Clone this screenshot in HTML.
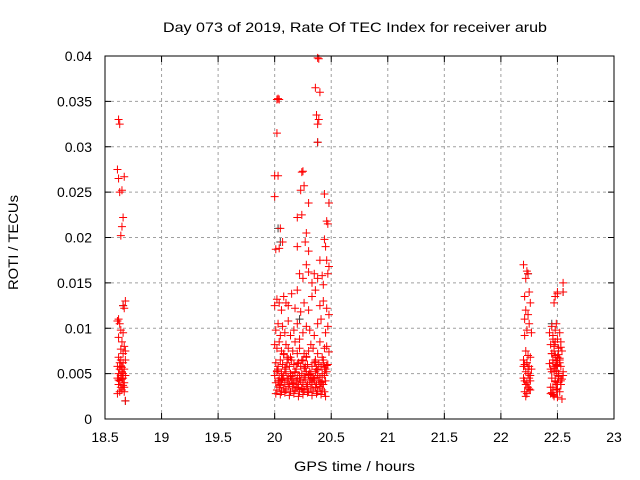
<!DOCTYPE html>
<html><head><meta charset="utf-8"><style>
html,body{margin:0;padding:0;background:#fff;}
svg{display:block;font-family:"Liberation Sans",sans-serif;}
</style></head><body>
<svg id="chart" width="640" height="480" xmlns="http://www.w3.org/2000/svg">
<rect width="640" height="480" fill="#fff"/>
<text x="163" y="32" font-size="14" textLength="384" lengthAdjust="spacingAndGlyphs">Day 073 of 2019, Rate Of TEC Index for receiver arub</text>
<text x="294" y="471" font-size="14" textLength="121" lengthAdjust="spacingAndGlyphs">GPS time / hours</text>
<text transform="translate(18,290) rotate(-90)" font-size="14" textLength="95" lengthAdjust="spacingAndGlyphs">ROTI / TECUs</text>
<g id="grid"></g>
<g id="ticks"></g>
<g id="points"></g>
<rect x="105" y="56" width="509" height="363" fill="none" stroke="#000" stroke-width="1"/>
</svg>
<script>
const xTicks=[18.5,19,19.5,20,20.5,21,21.5,22,22.5,23];
const xTickLabels=["18.5","19","19.5","20","20.5","21","21.5","22","22.5","23"];
const yTicks=[0,0.005,0.01,0.015,0.02,0.025,0.03,0.035,0.04];
const yTickLabels=["0","0.005","0.01","0.015","0.02","0.025","0.03","0.035","0.04"];
const ptX=[
18.62,18.63,18.61,18.62,18.67,18.63,18.65,18.66,18.65,18.64,18.66,18.68,18.67,18.62,18.63,18.61,18.64,18.66,18.62,18.65,18.67,18.64,18.66,18.68,18.62,18.64,18.66,18.68,18.61,18.63,18.65,18.67,18.62,18.64,18.66,18.68,18.61,18.63,18.65,18.67,18.62,18.64,18.66,18.63,18.65,18.61,18.67,18.68,18.66,18.64,18.63,18.65,18.62,18.67,
20.02,20.03,20.04,20.38,20.39,20.37,20.39,20.38,20.40,20.36,20.38,20.02,20.0,20.03,20.25,20.24,20.23,20.26,20.44,20.48,20.30,20.46,20.47,20.2,20.24,20.0,20.01,20.04,20.05,20.07,20.2,20.28,20.27,20.3,20.44,20.45,20.4,20.46,20.48,20.47,20.35,20.33,20.38,20.42,20.43,20.28,20.3,20.25,20.22,
20.0,20.02,20.04,20.06,20.08,20.1,20.12,20.15,20.18,20.2,20.23,20.26,20.3,20.33,20.36,20.4,20.43,20.46,20.48,
20.01,20.03,20.05,20.07,20.09,20.12,20.14,20.17,20.2,20.22,20.25,20.28,20.31,20.35,20.38,20.41,20.45,20.47,
20.0,20.02,20.04,20.06,20.08,20.1,20.12,20.14,20.16,20.18,20.2,20.22,20.24,20.26,20.28,20.3,20.32,20.34,20.36,20.38,20.4,20.42,20.44,20.46,20.48,
20.01,20.03,20.05,20.07,20.09,20.11,20.13,20.15,20.17,20.19,20.21,20.23,20.25,20.27,20.29,20.31,20.33,20.35,20.37,20.39,20.41,20.43,20.45,20.47,
20.0,20.02,20.04,20.06,20.08,20.1,20.12,20.14,20.16,20.18,20.2,20.22,20.24,20.26,20.28,20.3,20.32,20.34,20.36,20.38,20.4,20.42,20.44,20.46,
20.01,20.03,20.05,20.07,20.09,20.11,20.13,20.15,20.17,20.19,20.21,20.23,20.25,20.27,20.29,20.31,20.33,20.35,20.37,20.39,20.41,20.43,20.45,
20.02,20.04,20.06,20.08,20.1,20.12,20.14,20.16,20.18,20.2,20.22,20.24,20.26,20.28,20.3,20.32,20.34,20.36,20.38,20.4,20.42,20.44,
20.01,20.05,20.09,20.13,20.17,20.21,20.25,20.29,20.33,20.37,20.41,20.45,20.03,20.07,20.11,20.19,20.27,20.35,20.43,
20.02,20.06,20.1,20.14,20.18,20.22,20.26,20.3,20.34,20.38,20.42,20.46,20.04,20.08,20.12,20.16,20.2,20.24,20.28,20.32,20.36,20.4,20.44,
22.2,22.23,22.24,22.22,22.25,22.21,22.26,22.22,22.24,22.21,22.25,22.23,22.27,22.21,22.22,22.24,22.26,22.2,22.21,22.23,22.25,22.27,22.22,22.24,22.26,22.2,22.21,22.23,22.25,22.22,22.24,22.26,22.21,22.23,22.25,22.22,22.24,22.2,22.26,22.23,
22.55,22.55,22.5,22.48,22.47,22.5,22.49,22.45,22.48,22.52,22.46,22.5,22.53,22.44,22.47,22.51,22.54,22.45,22.48,22.5,22.52,22.46,22.49,22.53,22.44,22.47,22.51,22.55,22.45,22.48,22.5,22.53,22.46,22.49,22.52,22.44,22.47,22.5,22.54,22.46,22.48,22.51,22.45,22.49,22.53,22.47,22.5,22.52,22.46,22.48,22.51,22.47,22.5,
22.43,22.45,22.47,22.49,22.51,22.53,22.55,22.44,22.46,22.48,22.5,22.52,22.54,22.43,22.45,22.47,22.49,22.51,22.53
];
const ptY=[
.033,.0325,.0275,.0265,.0267,.025,.0252,.0222,.0212,.0202,.0125,.013,.0122,.011,.0105,.0108,.0098,.0095,.009,.0085,.008,.0077,.0072,.0075,.0068,.0065,.0062,.0065,.0058,.0055,.0057,.0055,.005,.0048,.005,.0048,.0045,.0042,.0044,.004,.0038,.0035,.0037,.003,.0032,.0028,.003,.002,.0045,.0058,.0062,.0052,.0043,.0035,
.0352,.0353,.0352,.0398,.0397,.0335,.033,.0325,.036,.0365,.0305,.0315,.0268,.0268,.0273,.0272,.0252,.0257,.0248,.0238,.0238,.0218,.0215,.0222,.0225,.0245,.0187,.0188,.021,.0195,.019,.0205,.0195,.0185,.0198,.019,.0175,.0175,.0168,.016,.016,.015,.0155,.0158,.0148,.017,.0162,.0155,.016,
.0125,.0132,.0128,.012,.0135,.0128,.0125,.0138,.0122,.0142,.0118,.0128,.012,.0135,.0142,.0125,.013,.0122,.0115,
.0098,.0105,.0092,.0102,.0095,.0108,.0092,.0098,.0105,.0088,.0095,.0102,.0098,.0092,.0105,.011,.0095,.0102,
.0082,.0078,.0085,.0075,.0072,.0082,.0078,.0068,.0075,.0085,.0072,.0078,.0065,.0072,.0068,.0075,.0082,.0078,.0065,.0072,.0085,.0068,.0078,.008,.0074,
.0062,.0058,.0065,.006,.0055,.0062,.0058,.0065,.006,.0055,.0062,.0058,.0064,.0056,.006,.0052,.0058,.0062,.0055,.006,.0058,.0062,.0055,.006,
.0048,.0052,.0045,.005,.0048,.0052,.0045,.005,.0048,.0052,.0045,.0048,.005,.0046,.0052,.0048,.005,.0045,.0052,.0048,.0046,.005,.0048,.0052,
.004,.0042,.0038,.0044,.004,.0042,.0038,.0044,.004,.0042,.0038,.0042,.004,.0044,.0038,.0042,.004,.0044,.0038,.0042,.004,.0038,.0042,
.0032,.0035,.003,.0034,.0032,.0036,.003,.0034,.0032,.0035,.003,.0034,.0032,.0036,.003,.0034,.0032,.0035,.003,.0034,.0032,.003,
.0028,.0027,.0029,.0026,.0028,.0025,.0027,.0029,.0026,.0028,.0027,.0025,.0055,.0045,.0068,.0035,.0058,.0042,.0065,
.0053,.0043,.0057,.0047,.0051,.0044,.0056,.0049,.0046,.0054,.0041,.0059,.0037,.0071,.0066,.0039,.0061,.0033,.0069,.0044,.0063,.0036,.0057,
.017,.0163,.016,.0155,.014,.0135,.0128,.012,.0115,.011,.0105,.0098,.0095,.0092,.0075,.007,.0068,.0065,.006,.0062,.0058,.0055,.0052,.005,.0048,.0045,.0042,.004,.0045,.0038,.0035,.0032,.003,.0028,.0033,.0025,.0055,.0058,.0042,.0062,
.015,.014,.014,.0135,.0128,.0138,.0105,.0102,.0098,.0095,.0092,.0088,.0085,.0082,.008,.0078,.0075,.0072,.007,.0068,.0065,.0062,.006,.0058,.0055,.0052,.005,.0048,.0045,.0042,.004,.0038,.0035,.0032,.003,.0028,.0026,.0024,.0022,.0065,.0058,.0048,.0052,.0038,.0042,.0075,.0033,.0062,.0027,.0085,.0045,.0025,.0068,
.0095,.0072,.0056,.0064,.0047,.0079,.0052,.0035,.0088,.0041,.0059,.0067,.0044,.0061,.0029,.0082,.0053,.0071,.0038
];
const darkX=[18.66,18.68,20.03,20.05,20.22,20.38,20.48,22.24,22.45,22.55];
const darkY=[.0125,.002,.021,.0195,.011,.0305,.0238,.016,.0105,.014];

const NS="http://www.w3.org/2000/svg";
const X0=105,X1=614,Y0=419,Y1=56;
function sx(v){return X0+(v-18.5)/(23-18.5)*(X1-X0);}
function sy(v){return Y0-(v/0.04)*(Y0-Y1);}
function mk(tag,attrs,parent){const e=document.createElementNS(NS,tag);for(const k in attrs)e.setAttribute(k,attrs[k]);parent.appendChild(e);return e;}
const grid=document.getElementById('grid'),ticks=document.getElementById('ticks'),pts=document.getElementById('points');
xTicks.forEach((t,i)=>{
  const x=sx(t);
  if(i>0&&i<xTicks.length-1){const g=mk('line',{x1:x,x2:x,y1:Y1,y2:Y0,stroke:'#a0a0a0','stroke-dasharray':'3,3'},grid);
  
  }
  mk('line',{x1:x,x2:x,y1:Y0,y2:Y0-6,stroke:'#000'},ticks);
  mk('line',{x1:x,x2:x,y1:Y1,y2:Y1+6,stroke:'#000'},ticks);
  const l=mk('text',{x:x,y:442,'font-size':14,'text-anchor':'middle'},ticks);l.textContent=xTickLabels[i];
  
  
});
yTicks.forEach((t,i)=>{
  const y=sy(t);
  if(i>0&&i<yTicks.length-1){const g=mk('line',{x1:X0,x2:X1,y1:y,y2:y,stroke:'#a0a0a0','stroke-dasharray':'3,3'},grid);
  
  }
  mk('line',{x1:X0,x2:X0+6,y1:y,y2:y,stroke:'#000'},ticks);
  mk('line',{x1:X1,x2:X1-6,y1:y,y2:y,stroke:'#000'},ticks);
  const l=mk('text',{x:92,y:y+5,'font-size':14,'text-anchor':'end'},ticks);l.textContent=yTickLabels[i];
  
  
});
function cross(x,y,col){
  return mk('path',{d:`M${x-4} ${y}H${x+4}M${x} ${y-4}V${y+4}`,stroke:col,'stroke-width':1,fill:'none'},pts);
}
darkX.forEach((v,i)=>{const p=cross(sx(v),sy(darkY[i]),'#404040');
  
  });
ptX.forEach((v,i)=>{const p=cross(sx(v),sy(ptY[i]),'#ff0000');
  
  });
</script>
</body></html>
